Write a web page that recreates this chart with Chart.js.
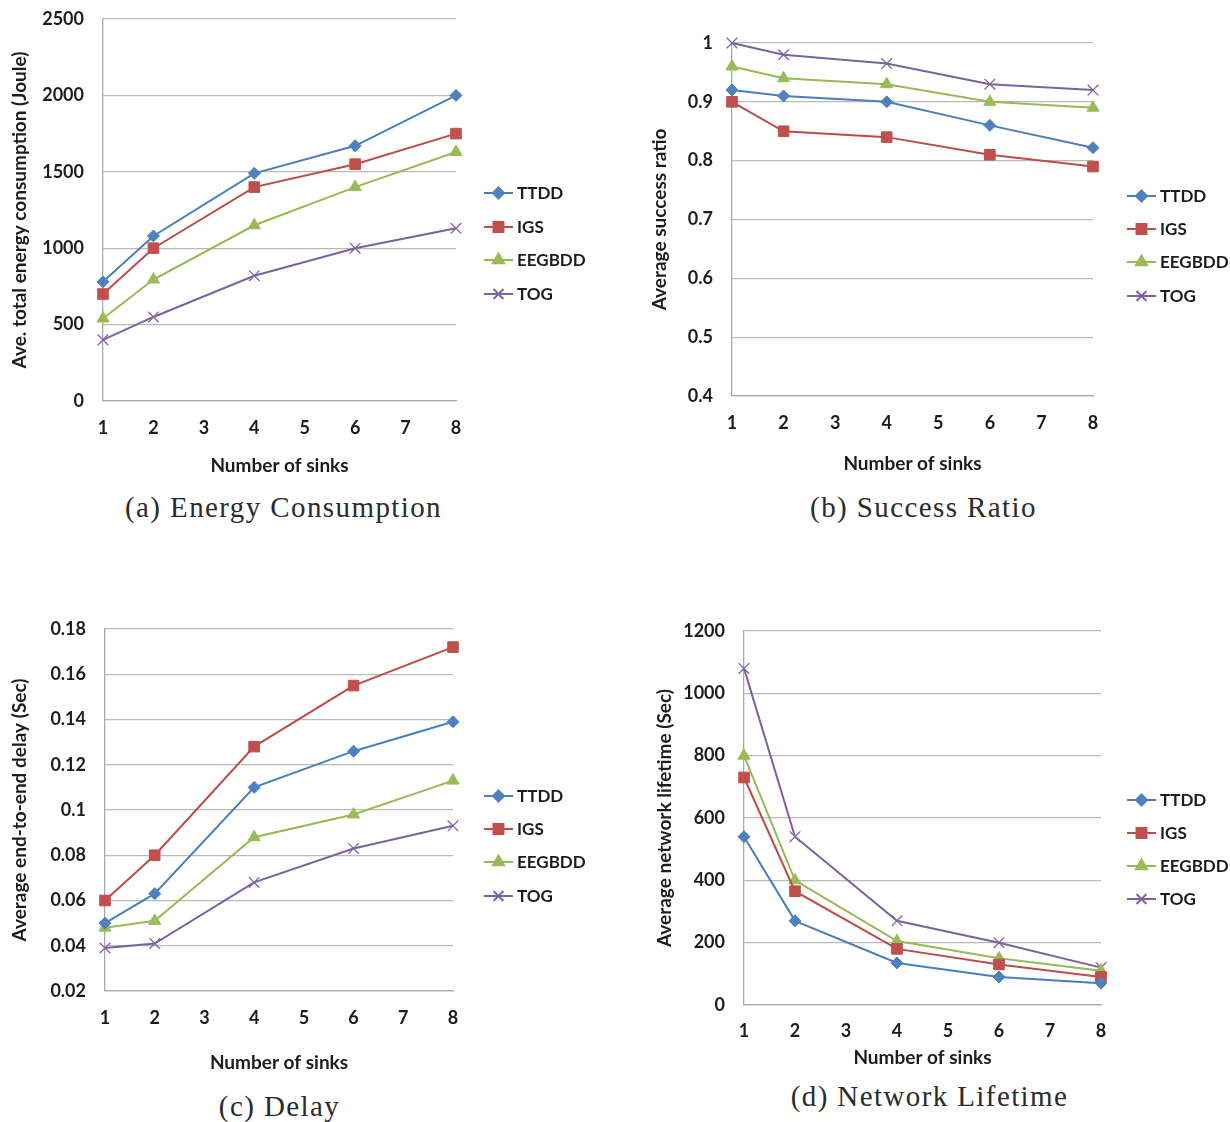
<!DOCTYPE html>
<html>
<head>
<meta charset="utf-8">
<title>Sinks comparison</title>
<script src="https://cdn.jsdelivr.net/npm/chart.js@4.4.1/dist/chart.umd.min.js"></script>
<style>
  html, body { margin: 0; padding: 0; background: #fff; }
  #page { position: relative; width: 1230px; height: 1122px; overflow: hidden; }
  .panel { position: absolute; }
  .caption {
    position: absolute; width: 615px; text-align: center;
    font-family: "Liberation Serif", serif; font-size: 29px; color: #2b2b2b;
    letter-spacing: 1.4px; line-height: 1;
  }
</style>
</head>
<body>
<div id="page">
  <canvas id="cvA" class="panel"></canvas>
  <canvas id="cvB" class="panel"></canvas>
  <canvas id="cvC" class="panel"></canvas>
  <canvas id="cvD" class="panel"></canvas>
  <div class="caption" style="left:-24px; top:493px;">(a) Energy Consumption</div>
  <div class="caption" style="left:616px; top:493px;">(b) Success Ratio</div>
  <div class="caption" style="left:-28px; top:1092px;">(c) Delay</div>
  <div class="caption" style="left:622px; top:1082px;">(d) Network Lifetime</div>
</div>

<script>
// ── data ──
const sinks = [1, 2, 4, 6, 8];
const seriesNames = ["TTDD", "IGS", "EEGBDD", "TOG"];

const energyTTDD   = [780, 1080, 1490, 1670, 2000];
const energyIGS    = [700, 1000, 1400, 1550, 1750];
const energyEEGBDD = [540, 795, 1150, 1400, 1630];
const energyTOG    = [400, 550, 820, 1000, 1130];

const successTTDD   = [0.92, 0.91, 0.90, 0.86, 0.822];
const successIGS    = [0.90, 0.85, 0.84, 0.81, 0.79];
const successEEGBDD = [0.96, 0.94, 0.93, 0.90, 0.89];
const successTOG    = [1.0, 0.98, 0.965, 0.93, 0.92];

const delayTTDD   = [0.050, 0.063, 0.110, 0.126, 0.139];
const delayIGS    = [0.060, 0.080, 0.128, 0.155, 0.172];
const delayEEGBDD = [0.048, 0.051, 0.088, 0.098, 0.113];
const delayTOG    = [0.039, 0.041, 0.068, 0.083, 0.093];

const lifeTTDD   = [540, 270, 135, 90, 70];
const lifeIGS    = [730, 365, 180, 130, 90];
const lifeEEGBDD = [800, 400, 205, 150, 110];
const lifeTOG    = [1080, 540, 270, 200, 120];

// ── styles ──
const lineColors   = ["#4a7ebb", "#be4b48", "#98b954", "#7d60a0"];
const markerColors = ["#4f81bd", "#c0504d", "#9bbb59", "#8064a2"];
const markerStyles = ["rectRot", "rect", "triangle", "crossRot"];
const markerRadius = [6, 7.5, 7, 7.5];
const FONT = "Lato, 'Open Sans', sans-serif";
const TEXT = "#1c1c1c";
const TICK_SIZE = 18;
const TITLE_SIZE = 19;
const TICK_LH = TICK_SIZE * 1.2;
const TITLE_LH = TITLE_SIZE * 1.2;

function toXY(vals) {
  return vals.map((v, i) => ({ x: sinks[i], y: v }));
}

function fmt(v) {
  return String(Math.round(v * 10000) / 10000);
}

// draws the Excel-style legend (line + marker + name) at fixed page spots
const sideLegend = {
  id: "sideLegend",
  afterDraw(chart, args, opts) {
    const ctx = chart.ctx;
    ctx.save();
    chart.data.datasets.forEach((ds, i) => {
      const y = opts.ys[i];
      ctx.strokeStyle = ds.borderColor;
      ctx.lineWidth = 2;
      ctx.beginPath();
      ctx.moveTo(opts.x0, y);
      ctx.lineTo(opts.x1, y);
      ctx.stroke();
      const mx = (opts.x0 + opts.x1) / 2;
      ctx.fillStyle = ds.pointBackgroundColor;
      ctx.strokeStyle = ds.pointBorderColor;
      Chart.helpers.drawPoint(ctx, {
        pointStyle: ds.pointStyle, radius: ds.pointRadius - 0.5,
        rotation: 0, borderWidth: ds.pointBorderWidth
      }, mx, y);
      ctx.fillStyle = TEXT;
      ctx.font = "bold 17px " + FONT;
      ctx.textBaseline = "middle";
      ctx.textAlign = "left";
      ctx.fillText(ds.label, opts.x1 + 4, y + 1);
    });
    ctx.restore();
  }
};

function makePanel(p) {
  const cv = document.getElementById(p.id);
  cv.style.left = p.cx + "px";
  cv.style.top = p.cy + "px";
  cv.width = p.cw; cv.height = p.ch;
  cv.style.width = p.cw + "px"; cv.style.height = p.ch + "px";

  const datasets = p.series.map((vals, i) => ({
    label: seriesNames[i],
    data: toXY(vals),
    borderColor: lineColors[i],
    borderWidth: 2,
    pointStyle: markerStyles[i],
    pointRadius: markerRadius[i],
    pointHoverRadius: markerRadius[i],
    pointBackgroundColor: markerColors[i],
    pointBorderColor: markerColors[i],
    pointBorderWidth: i === 3 ? 1.3 : 1,
    tension: 0,
    clip: false
  }));

  const yW = p.plot.l - p.cx;
  const xH = p.cy + p.ch - p.plot.b;

  new Chart(cv, {
    type: "line",
    data: { datasets },
    options: {
      responsive: false,
      animation: false,
      layout: {
        padding: { left: 0, top: p.plot.t - p.cy, right: p.cx + p.cw - p.plot.r, bottom: 0 }
      },
      plugins: {
        legend: { display: false },
        tooltip: { enabled: false },
        sideLegend: {
          x0: p.legend.x0 - p.cx, x1: p.legend.x1 - p.cx,
          ys: p.legend.ys.map(y => y - p.cy)
        }
      },
      scales: {
        x: {
          type: "linear", min: 1, max: 8,
          ticks: { stepSize: 1, padding: p.xTickY - p.plot.b - TICK_LH / 2, color: TEXT,
                   font: { family: FONT, size: TICK_SIZE, weight: "bold" } },
          grid: { display: false, drawTicks: false },
          border: { display: true, color: "#a9a9a9", width: 1.3 },
          title: {
            display: true, text: "Number of sinks", color: TEXT,
            font: { family: FONT, size: TITLE_SIZE, weight: "bold", lineHeight: 1.2 },
            padding: { top: 0, bottom: (p.cy + p.ch) - p.xTitleY - TITLE_LH / 2 }
          },
          afterFit(s) {
            s.height = xH;
            s.paddingLeft = 0; s.paddingRight = 0;
          }
        },
        y: {
          min: p.yMin, max: p.yMax,
          ticks: { stepSize: p.yStep, padding: 19, color: TEXT,
                   font: { family: FONT, size: TICK_SIZE, weight: "bold" },
                   callback: fmt },
          grid: { color: "#bababa", lineWidth: 1.3, drawTicks: false },
          border: { display: true, color: "#a9a9a9", width: 1.3 },
          title: {
            display: true, text: p.yTitle, color: TEXT,
            font: { family: FONT, size: TITLE_SIZE, weight: "bold", lineHeight: 1.2 },
            padding: { top: p.yTitleX - p.cx - TITLE_LH / 2, bottom: 0 }
          },
          afterFit(s) {
            s.width = yW;
            s.paddingTop = 0; s.paddingBottom = 0;
          }
        }
      }
    },
    plugins: [sideLegend]
  });
}

makePanel({
  id: "cvA", cx: 0, cy: 0, cw: 615, ch: 490,
  plot: { l: 103, t: 19, r: 456, b: 401 },
  yMin: 0, yMax: 2500, yStep: 500,
  yTitle: "Ave. total energy consumption (Joule)", yTitleX: 20,
  xTitleY: 466, xTickY: 428,
  legend: { x0: 484, x1: 513, ys: [193, 227, 260, 294] },
  series: [energyTTDD, energyIGS, energyEEGBDD, energyTOG]
});

makePanel({
  id: "cvB", cx: 615, cy: 0, cw: 615, ch: 490,
  plot: { l: 732, t: 43, r: 1093, b: 396 },
  yMin: 0.4, yMax: 1, yStep: 0.1,
  yTitle: "Average success ratio", yTitleX: 660,
  xTitleY: 464, xTickY: 423,
  legend: { x0: 1127, x1: 1156, ys: [196, 229, 262, 296] },
  series: [successTTDD, successIGS, successEEGBDD, successTOG]
});

makePanel({
  id: "cvC", cx: 0, cy: 600, cw: 615, ch: 490,
  plot: { l: 105, t: 629, r: 453, b: 991 },
  yMin: 0.02, yMax: 0.18, yStep: 0.02,
  yTitle: "Average end-to-end delay (Sec)", yTitleX: 20,
  xTitleY: 1063, xTickY: 1018,
  legend: { x0: 484, x1: 513, ys: [796, 829, 862, 896] },
  series: [delayTTDD, delayIGS, delayEEGBDD, delayTOG]
});

makePanel({
  id: "cvD", cx: 615, cy: 600, cw: 615, ch: 480,
  plot: { l: 744, t: 631, r: 1101, b: 1005 },
  yMin: 0, yMax: 1200, yStep: 200,
  yTitle: "Average network lifetime (Sec)", yTitleX: 665,
  xTitleY: 1058, xTickY: 1031,
  legend: { x0: 1127, x1: 1156, ys: [800, 833, 866, 899] },
  series: [lifeTTDD, lifeIGS, lifeEEGBDD, lifeTOG]
});
</script>
</body>
</html>
